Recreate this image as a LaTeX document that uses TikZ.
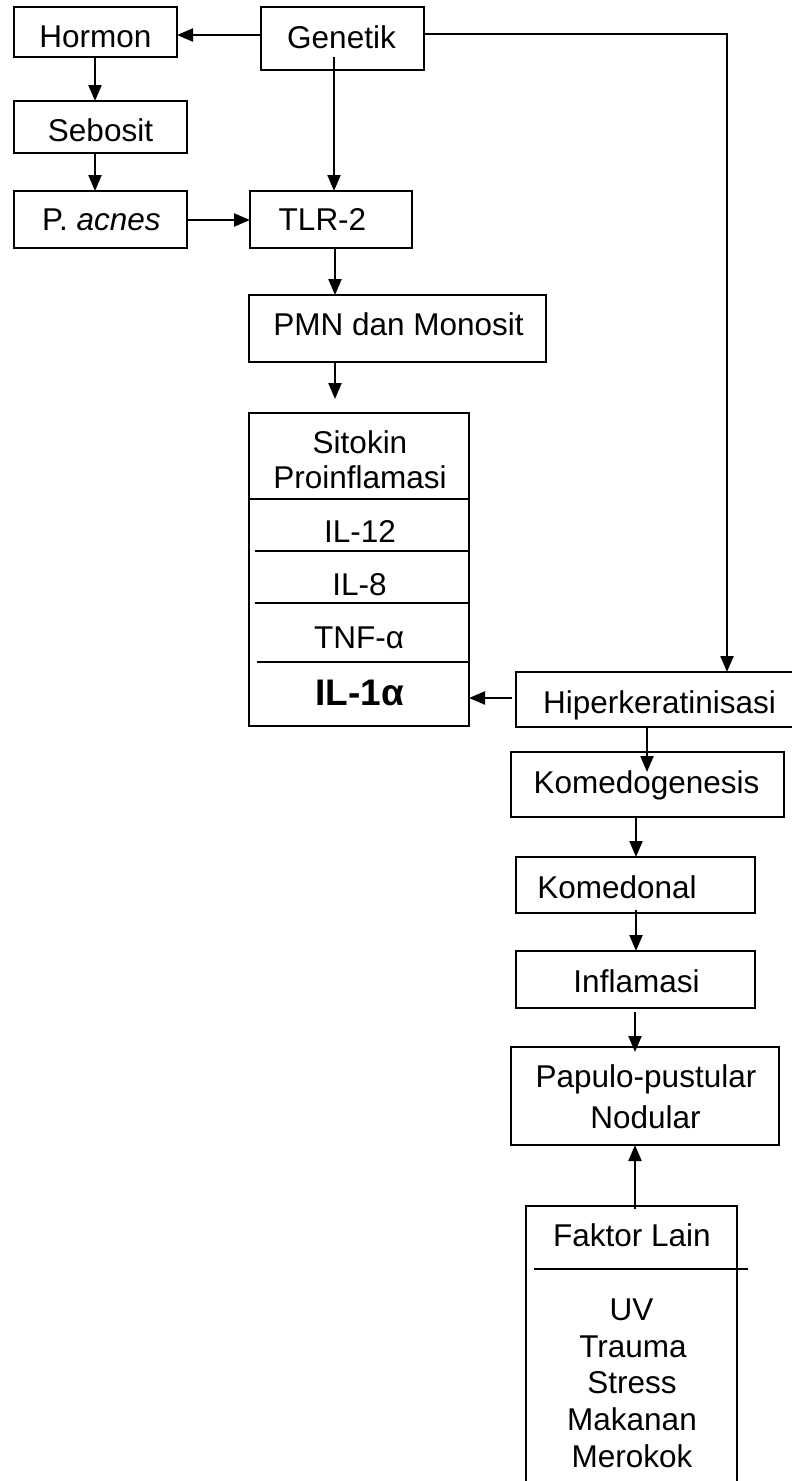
\documentclass[tikz,border=0pt]{standalone}
\usepackage{fontspec}
\setmainfont{Liberation Sans}
\usetikzlibrary{arrows.meta,calc}
\newcommand{\bxx}[5]{\node[box,minimum width={(#4)-(#2)},minimum height={(#5)-(#3)}] (#1) at ({((#2)+(#4))/2},{((#3)+(#5))/2}) {};}
\begin{document}
\begin{tikzpicture}[x=1pt,y=-1pt,
  box/.style={draw, line width=2.2pt, inner sep=0pt, outer sep=0pt},
  txt/.style={anchor=base, inner sep=0pt, font=\fontsize{31.5}{36}\selectfont},
  bigtxt/.style={anchor=base, inner sep=0pt, font=\fontsize{37}{42}\selectfont\bfseries},
  arr/.style={line width=2.2pt, -{Triangle[length=16pt,width=13pt]}},
  ln/.style={line width=2.2pt}]
\useasboundingbox (0,0) rectangle (792,1481);
\clip (0,0) rectangle (792,1481);
% boxes
\bxx{hormon}{14}{7}{177}{57}
\bxx{genetik}{261}{7}{424}{70}
\bxx{sebosit}{14}{101}{187}{153}
\bxx{pacnes}{14}{191}{187}{248}
\bxx{tlr}{250}{191}{412}{248}
\bxx{pmn}{249}{295}{546}{362}
\bxx{sitokin}{249}{413}{469}{726}
\bxx{hiper}{516}{672}{803}{727}
\bxx{komedo}{511}{752}{784}{817}
\bxx{komedonal}{516}{857}{755}{913}
\bxx{inflamasi}{516}{951}{755}{1008}
\bxx{papulo}{511}{1047}{779}{1145}
\bxx{faktor}{526}{1206}{737}{1500}
% texts
\node[txt] (tHormon) at (95.5,47) {Hormon};
\node[txt] (tGenetik) at (341.5,48) {Genetik};
\node[txt] (tSebosit) at (100.5,141) {Sebosit};
\node[txt] (tPacnes) at (101.5,230) {P. \textit{acnes}};
\node[txt] (tTlr) at (322.5,230) {TLR-2};
\node[txt] (tPmn) at (398.5,335) {PMN dan Monosit};
\node[txt] (tSit1) at (360,453) {Sitokin};
\node[txt] (tSit2) at (360,488) {Proinflamasi};
\node[txt] (tIl12) at (360,542) {IL-12};
\node[txt] (tIl8) at (359.5,595) {IL-8};
\node[txt] (tTnf) at (359,648) {TNF-α};
\node[bigtxt] (tIl1) at (359.5,705) {IL-1α};
\node[txt] (tHiper) at (659.5,713) {Hiperkeratinisasi};
\node[txt] (tKomedo) at (646.5,793) {Komedogenesis};
\node[txt] (tKomedonal) at (617,898) {Komedonal};
\node[txt] (tInfl) at (636.5,992) {Inflamasi};
\node[txt] (tPap1) at (646,1087) {Papulo-pustular};
\node[txt] (tPap2) at (645.5,1128) {Nodular};
\node[txt] (tFaktor) at (632,1246) {Faktor Lain};
\node[txt] (tUv) at (631.5,1320) {UV};
\node[txt] (tTrauma) at (633,1357) {Trauma};
\node[txt] (tStress) at (632,1393) {Stress};
\node[txt] (tMakan) at (632,1430) {Makanan};
\node[txt] (tRokok) at (632,1467) {Merokok};
% dividers
\draw[ln] (sitokin.west |- 0,499) -- (sitokin.east |- 0,499);
\draw[ln] (255,551) -- (sitokin.east |- 0,551);
\draw[ln] (255,603) -- (sitokin.east |- 0,603);
\draw[ln] (257,662) -- (sitokin.east |- 0,662);
\draw[ln] (534,1269) -- (748,1269);
% arrows
\draw[arr] (genetik.west |- 0,35) -- (hormon.east |- 0,35);
\draw[arr] (hormon.south -| 95,0) -- (sebosit.north -| 95,0);
\draw[arr] (sebosit.south -| 95,0) -- (pacnes.north -| 95,0);
\draw[arr] (pacnes.east |- 0,220) -- (tlr.west |- 0,220);
\draw[arr, shorten <=-13pt] (genetik.south -| 334,0) -- (tlr.north -| 334,0);
\draw[arr] (genetik.east |- 0,34) -| (hiper.north -| 727,0);
\draw[arr] (tlr.south -| 335,0) -- (pmn.north -| 335,0);
\draw[arr, shorten >=14pt] (pmn.south -| 335,0) -- (sitokin.north -| 335,0);
\draw[arr, shorten <=4pt] (hiper.west |- 0,698) -- (sitokin.east |- 0,698);
\draw[arr, shorten >=-20pt] (hiper.south -| 647,0) -- (komedo.north -| 647,0);
\draw[arr] (komedo.south -| 636,0) -- (komedonal.north -| 636,0);
\draw[arr, shorten <=-3pt] (komedonal.south -| 636,0) -- (inflamasi.north -| 636,0);
\draw[arr, shorten <=4pt, shorten >=-5pt] (inflamasi.south -| 635,0) -- (papulo.north -| 635,0);
\draw[arr, shorten <=-3pt] (faktor.north -| 635,0) -- (papulo.south -| 635,0);
\end{tikzpicture}
\end{document}
